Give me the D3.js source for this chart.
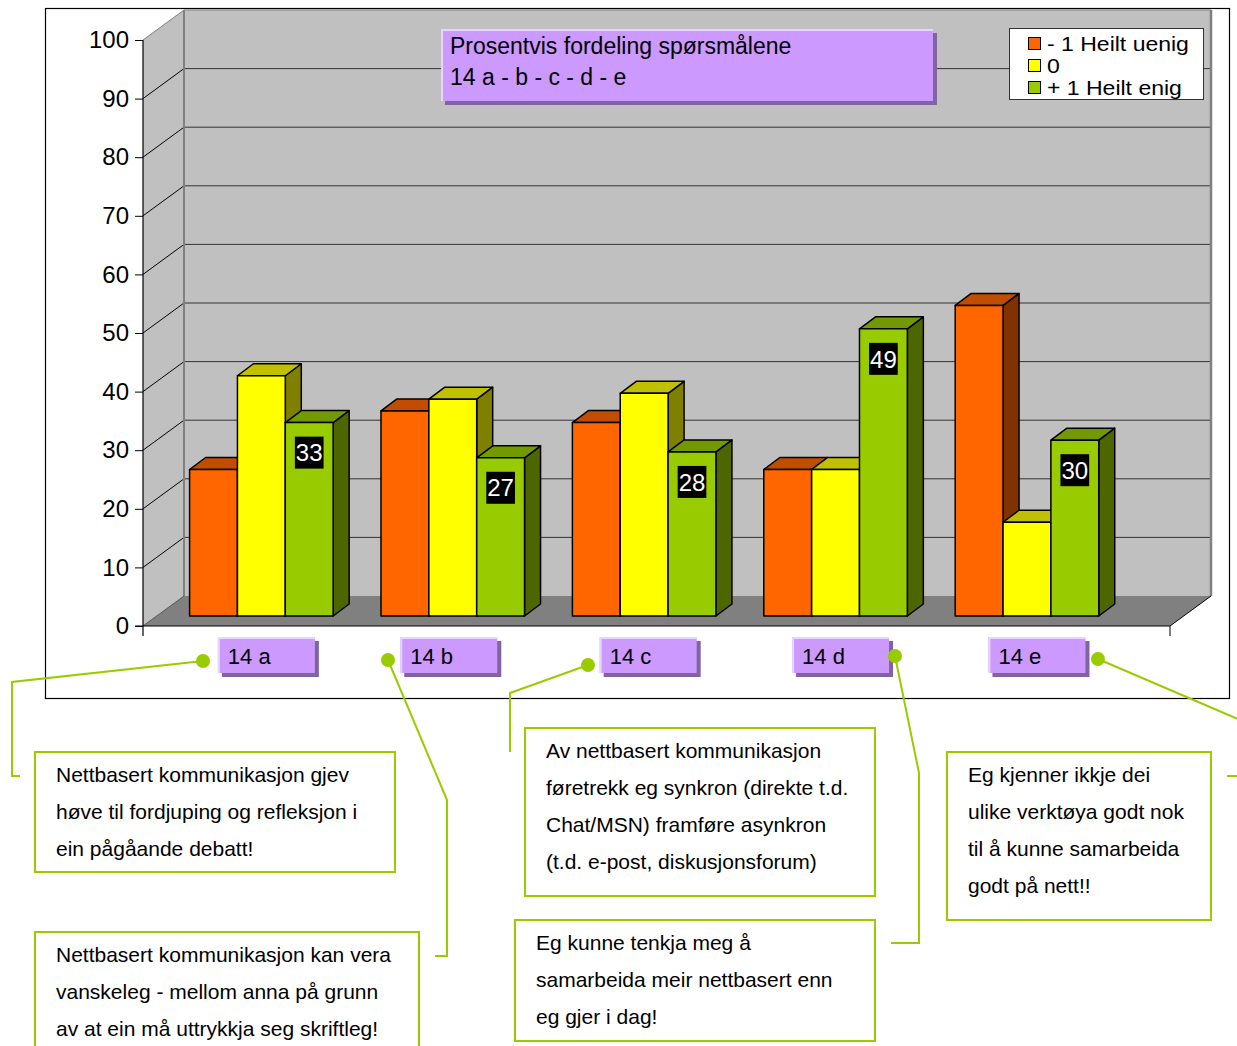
<!DOCTYPE html>
<html><head><meta charset="utf-8">
<script src="https://cdn.jsdelivr.net/npm/d3@7"></script>
<style>
html,body{margin:0;padding:0;background:#fff;}
svg{display:block;font-family:"Liberation Sans",Arial,sans-serif;}
</style></head><body>
<svg id="chart" width="1237" height="1046"></svg>
<script>
// ---------- data ----------
const categories = ["14 a","14 b","14 c","14 d","14 e"];
const seriesNames = ["- 1 Heilt uenig","0","+ 1 Heilt enig"];
const valuesUenig = [25,35,33,25,53];
const valuesNoytral = [41,37,38,25,16];
const valuesEnig = [33,27,28,49,30];
const yTickValues = [0,10,20,30,40,50,60,70,80,90,100];
const titleLines = ["Prosentvis fordeling spørsmålene","14 a - b - c - d - e"];
const calloutTexts = [
  ["Nettbasert kommunikasjon gjev","høve til fordjuping og refleksjon i","ein pågåande debatt!"],
  ["Nettbasert kommunikasjon kan vera","vanskeleg - mellom anna på grunn","av at ein må uttrykkja seg skriftleg!"],
  ["Av nettbasert kommunikasjon","føretrekk eg synkron (direkte t.d.","Chat/MSN) framføre asynkron","(t.d. e-post, diskusjonsforum)"],
  ["Eg kunne tenkja meg å","samarbeida meir nettbasert enn","eg gjer i dag!"],
  ["Eg kjenner ikkje dei","ulike verktøya godt nok","til å kunne samarbeida","godt på nett!!"]
];

// ---------- layout / style ----------
const FONT = '"Liberation Sans", Arial, sans-serif';
const colors = [
  {front:"#FF6600", top:"#C04D00", side:"#803300"},
  {front:"#FFFF00", top:"#C0C000", side:"#808000"},
  {front:"#99CC00", top:"#739900", side:"#4D6600"}
];
const calloutBoxes = [
  {x:35, y:752, w:360, h:120},
  {x:35, y:932, w:384, h:130},
  {x:525, y:728, w:350, h:168},
  {x:515, y:920, w:360, h:121},
  {x:947, y:752, w:264, h:168}
];
const connectors = [
  [[203,661],[12,682],[12,776],[20,776]],
  [[388,660],[447,800],[447,956],[435,956]],
  [[588,665],[510,693],[510,752]],
  [[895,656],[919,773],[919,943],[891,943]],
  [[1098,659],[1245,722]]
];
const extraStubs = [[[1227,776],[1240,776]]];
const labelNudge = [5,-4,4,5,10];

const svg = d3.select("#chart");
svg.append("rect").attr("width",1237).attr("height",1046).attr("fill","#fff");

const FX0 = 143, FX1 = 1170, DX = 41, DY = 30;
const y = d3.scaleLinear().domain([0,100]).range([626,40]);
const yBack = v => y(v) - DY;
const pts = a => a.map(p => p.join(",")).join(" ");

// ---------- walls ----------
const gW = svg.append("g");
gW.append("polygon").attr("points", pts([[FX0,y(100)],[FX0+DX,yBack(100)],[FX0+DX,yBack(0)],[FX0,y(0)]])).attr("fill","#c0c0c0");
gW.append("rect").attr("x",FX0+DX).attr("y",yBack(100)).attr("width",FX1-FX0).attr("height",yBack(0)-yBack(100)).attr("fill","#c0c0c0");
yTickValues.filter(v=>v>0).forEach(v=>{
  gW.append("line").attr("x1",FX0+DX).attr("x2",FX1+DX).attr("y1",yBack(v)).attr("y2",yBack(v))
    .attr("stroke", v===100 ? "#808080" : "#333").attr("stroke-width",1);
  gW.append("line").attr("x1",FX0).attr("y1",y(v)).attr("x2",FX0+DX).attr("y2",yBack(v))
    .attr("stroke", v===100 ? "#808080" : "#000").attr("stroke-width",1);
});
gW.append("line").attr("x1",FX0+DX).attr("x2",FX0+DX).attr("y1",yBack(100)).attr("y2",yBack(0)).attr("stroke","#808080").attr("stroke-width",2);
gW.append("line").attr("x1",FX1+DX).attr("x2",FX1+DX).attr("y1",yBack(100)).attr("y2",yBack(0)).attr("stroke","#808080").attr("stroke-width",2.5);
// floor
gW.append("polygon").attr("points", pts([[FX0,y(0)],[FX0+DX,yBack(0)],[FX1+DX,yBack(0)],[FX1,y(0)]])).attr("fill","#808080");
gW.append("line").attr("x1",FX0).attr("y1",y(0)).attr("x2",FX0+DX).attr("y2",yBack(0)).attr("stroke","#555");
gW.append("line").attr("x1",FX1).attr("y1",y(0)).attr("x2",FX1+DX).attr("y2",yBack(0)).attr("stroke","#000");
gW.append("line").attr("x1",FX0-8).attr("x2",FX1).attr("y1",y(0)).attr("y2",y(0)).attr("stroke","#000").attr("stroke-width",1.2);
gW.append("line").attr("x1",FX1).attr("x2",FX1).attr("y1",y(0)).attr("y2",y(0)+10).attr("stroke","#000");

// ---------- y axis ----------
const axis = d3.axisLeft(y).tickValues(yTickValues).tickSize(8).tickSizeOuter(0).tickPadding(6);
const gA = svg.append("g").attr("transform",`translate(${FX0},0)`).call(axis);
gA.attr("font-size",24).attr("font-family",FONT);
gA.select(".domain").remove();
gA.selectAll(".tick line").attr("stroke","#000");
gA.selectAll(".tick text").attr("fill","#000");
svg.append("line").attr("x1",FX0).attr("x2",FX0).attr("y1",y(100)).attr("y2",y(0)+10).attr("stroke","#000").attr("stroke-width",1.2);

// ---------- bars ----------
const x = d3.scaleBand().domain(categories).range([152,1109]).paddingInner(0.25).paddingOuter(0.125);
const xs = d3.scaleBand().domain(d3.range(seriesNames.length)).range([0,x.bandwidth()]);
const BAR_DX = DX/3, BAR_DY = DY/3;
const BDX = 16, BDY = 12;
const gB = svg.append("g").attr("transform",`translate(${BAR_DX},${-BAR_DY})`);
const seriesValues = [valuesUenig, valuesNoytral, valuesEnig];
categories.forEach((c,ci)=>{
  seriesValues.forEach((vals,si)=>{
    const v = vals[ci];
    const x0 = x(c)+xs(si), w = xs.bandwidth(), x1 = x0+w;
    const yt = y(v), yb = y(0);
    const col = colors[si];
    const g = gB.append("g").attr("stroke","#000").attr("stroke-width",1.5).attr("stroke-linejoin","round");
    g.append("polygon").attr("points",pts([[x1,yt],[x1+BDX,yt-BDY],[x1+BDX,yb-BDY],[x1,yb]])).attr("fill",col.side);
    g.append("polygon").attr("points",pts([[x0,yt],[x0+BDX,yt-BDY],[x1+BDX,yt-BDY],[x1,yt]])).attr("fill",col.top);
    g.append("rect").attr("x",x0).attr("y",yt).attr("width",w).attr("height",yb-yt).attr("fill",col.front);
  });
});
// value labels (third series)
valuesEnig.forEach((v,ci)=>{
  const cx = x(categories[ci])+xs(2)+xs.bandwidth()/2;
  const cy = y(v)+30;
  const g = gB.append("g");
  const t = g.append("text").attr("x",cx).attr("y",cy).attr("dy","0.36em").attr("text-anchor","middle")
    .attr("font-size",24).attr("font-family",FONT).attr("fill","#fff").text(v);
  const bb = t.node().getBBox();
  g.insert("rect","text").attr("x",bb.x-1).attr("y",cy-16).attr("width",bb.width+2).attr("height",32).attr("fill","#000");
});

// ---------- purple boxes helper ----------
function purpleBox(bx,by,bw,bh){
  svg.append("rect").attr("x",bx+4).attr("y",by+4).attr("width",bw).attr("height",bh).attr("fill","#8064A2");
  svg.append("rect").attr("x",bx).attr("y",by).attr("width",bw).attr("height",bh).attr("fill","#CC99FF");
  svg.append("polyline").attr("points",pts([[bx+1,by+bh],[bx+1,by+1],[bx+bw,by+1]])).attr("fill","none").attr("stroke","#E6D5FF").attr("stroke-width",2);
}

// title
purpleBox(441,29,492,72);
titleLines.forEach((s,i)=>{
  svg.append("text").attr("x",450).attr("y",54+i*31).attr("font-size",23).attr("font-family",FONT).attr("fill","#000").text(s);
});

// legend
const lg = svg.append("g");
lg.append("rect").attr("x",1009.5).attr("y",28.5).attr("width",194).attr("height",71).attr("fill","#fff").attr("stroke","#333");
seriesNames.forEach((s,i)=>{
  const cy = 43 + i*22;
  lg.append("rect").attr("x",1028.5).attr("y",cy-5.5).attr("width",12).attr("height",12).attr("fill",colors[i].front).attr("stroke","#000");
  lg.append("text").attr("x",1047).attr("y",cy+7.5).attr("font-size",20).attr("font-family",FONT).attr("fill","#000").text(s);
});
// stretch legend labels horizontally to match reference width
lg.selectAll("text").each(function(){
  const w = this.getComputedTextLength();
  d3.select(this).attr("textLength", w*1.15).attr("lengthAdjust","spacingAndGlyphs");
});

// category labels
categories.forEach((c,ci)=>{
  const cx = x(c)+x.bandwidth()/2+BAR_DX+labelNudge[ci];
  const bx = cx-48.5, by = 637;
  purpleBox(bx,by,97,36);
  svg.append("text").attr("x",bx+10).attr("y",by+27).attr("font-size",22).attr("font-family",FONT).attr("fill","#000").text(c);
});

// outer frame
svg.append("rect").attr("x",45.5).attr("y",8.5).attr("width",1184).attr("height",690).attr("fill","none").attr("stroke","#000").attr("stroke-width",1.2);

// ---------- callouts ----------
const line = d3.line();
connectors.concat(extraStubs).forEach(p=>{
  svg.append("path").attr("d",line(p)).attr("fill","none").attr("stroke","#99CC00").attr("stroke-width",2);
});
connectors.forEach(p=>{
  svg.append("circle").attr("cx",p[0][0]).attr("cy",p[0][1]).attr("r",7).attr("fill","#99CC00");
});
calloutBoxes.forEach((b,i)=>{
  svg.append("rect").attr("x",b.x).attr("y",b.y).attr("width",b.w).attr("height",b.h).attr("fill","#fff").attr("stroke","#99CC00").attr("stroke-width",2);
  calloutTexts[i].forEach((s,j)=>{
    svg.append("text").attr("x",b.x+21).attr("y",b.y+30+j*37).attr("font-size",21).attr("font-family",FONT).attr("fill","#000").text(s);
  });
});
</script>
</body></html>
